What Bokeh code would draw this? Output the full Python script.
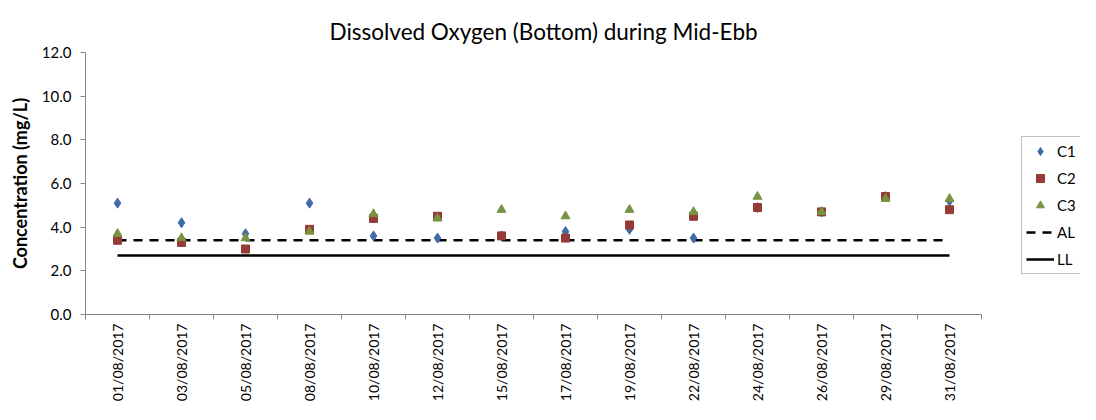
from bokeh.plotting import figure
from bokeh.models import Range1d, FixedTicker, Legend, LegendItem, ColumnDataSource
from bokeh.embed import file_html
from bokeh.resources import INLINE
import math

dates = ["01/08/2017", "03/08/2017", "05/08/2017", "08/08/2017", "10/08/2017",
         "12/08/2017", "15/08/2017", "17/08/2017", "19/08/2017", "22/08/2017",
         "24/08/2017", "26/08/2017", "29/08/2017", "31/08/2017"]
c1 = [5.1, 4.2, 3.7, 5.1, 3.6, 3.5, 3.6, 3.8, 3.9, 3.5, 4.9, 4.7, 5.4, 5.2]
c2 = [3.4, 3.3, 3.0, 3.9, 4.4, 4.5, 3.6, 3.5, 4.1, 4.5, 4.9, 4.7, 5.4, 4.8]
c3 = [3.7, 3.5, 3.5, 3.8, 4.6, 4.4, 4.8, 4.5, 4.8, 4.7, 5.4, 4.7, 5.3, 5.3]
al = [3.4] * len(dates)
ll = [2.7] * len(dates)

FONT = "Lato"
n = len(dates)
xs = [i + 0.5 for i in range(n)]
src = ColumnDataSource(dict(x=xs, c1=c1, c2=c2, c3=c3, al=al, ll=ll))

W, H = 1080, 404
LEFT, TOP, BOTTOM = 85, 52, 87
frame_w = W - LEFT
# 14 categories occupy 896 px; the frame extends further right to hold the legend
x_end = n * frame_w / 896.0

p = figure(width=W, height=H, x_range=Range1d(0, x_end), y_range=Range1d(0, 12),
           output_backend="svg", toolbar_location=None,
           min_border_left=LEFT, min_border_right=0, min_border_bottom=BOTTOM, min_border_top=TOP)
p.outline_line_color = None
p.xgrid.visible = False
p.ygrid.visible = False

p.title.text = "Dissolved Oxygen (Bottom) during Mid-Ebb"
p.title.text_font = FONT
p.title.text_font_size = "22.5px"
p.title.text_font_style = "normal"
p.title.align = "left"
p.title.offset = 244
p.title.standoff = 16
p.title.text_color = "#000000"

# y axis
ya = p.yaxis[0]
ya.ticker = FixedTicker(ticks=[0, 2, 4, 6, 8, 10, 12], minor_ticks=[])
ya.major_label_overrides = {v: f"{v:.1f}" for v in [0, 2, 4, 6, 8, 10, 12]}
ya.axis_line_color = "#868686"
ya.major_tick_line_color = "#868686"
ya.major_tick_out = 5
ya.major_tick_in = 0
ya.minor_tick_line_color = None
ya.major_label_text_font = FONT
ya.major_label_text_font_size = "15px"
ya.major_label_text_color = "#000000"
ya.major_label_standoff = 9
ya.axis_label = "Concentration (mg/L)"
ya.axis_label_text_font = FONT
ya.axis_label_text_font_size = "18px"
ya.axis_label_text_font_style = "bold"
ya.axis_label_text_color = "#000000"
ya.axis_label_standoff = 8

# x axis
xa = p.xaxis[0]
xa.bounds = (0, n)
xa.ticker = FixedTicker(ticks=xs, minor_ticks=list(range(n + 1)))
xa.major_label_overrides = {x: d for x, d in zip(xs, dates)}
xa.major_label_orientation = math.pi / 2
xa.axis_line_color = "#868686"
xa.major_tick_line_color = None
xa.major_tick_out = 0
xa.major_tick_in = 0
xa.minor_tick_line_color = "#868686"
xa.minor_tick_out = 5
xa.minor_tick_in = 0
xa.major_label_text_font = FONT
xa.major_label_text_font_size = "14px"
xa.major_label_text_color = "#000000"
xa.major_label_standoff = 4

r_al = p.line("x", "al", source=src, line_color="#000000", line_width=2.5, line_dash="9 7")
r_ll = p.line("x", "ll", source=src, line_color="#000000", line_width=2.5)
r1 = p.scatter("x", "c1", source=src, marker="diamond", size=10, fill_color="#3F6CA8", line_color="#3F6CA8")
r2 = p.scatter("x", "c2", source=src, marker="square", size=8, fill_color="#953A36", line_color="#953A36")
r3 = p.scatter("x", "c3", source=src, marker="triangle", size=9, fill_color="#779440", line_color="#779440")

legend = Legend(items=[
    LegendItem(label="C1", renderers=[r1]),
    LegendItem(label="C2", renderers=[r2]),
    LegendItem(label="C3", renderers=[r3]),
    LegendItem(label="AL", renderers=[r_al]),
    LegendItem(label="LL", renderers=[r_ll]),
], location=(936, 40))
legend.label_text_font = FONT
legend.label_text_font_size = "15px"
legend.label_text_color = "#000000"
legend.glyph_width = 28
legend.glyph_height = 20
legend.label_height = 20
legend.spacing = 7
legend.padding = 4
legend.margin = 0
legend.label_standoff = 3
legend.border_line_color = "#808080"
legend.border_line_width = 1
legend.background_fill_alpha = 1
p.add_layout(legend, "center")

open("out.html", "w").write(file_html(p, INLINE))
